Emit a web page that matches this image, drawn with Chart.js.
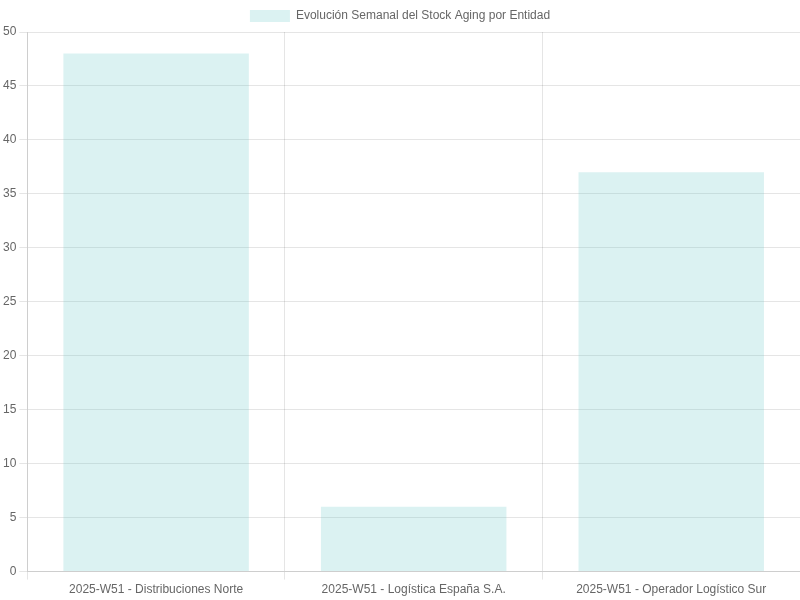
<!DOCTYPE html>
<html>
<head>
<meta charset="utf-8">
<script src="https://cdn.jsdelivr.net/npm/chart.js@4"></script>
<style>
html,body{margin:0;padding:0;background:#fff;}
#wrap{width:800px;height:600px;}
</style>
</head>
<body>
<div id="wrap"><canvas id="c"></canvas></div>
<script>
const categories = [
  "2025-W51 - Distribuciones Norte",
  "2025-W51 - Logística España S.A.",
  "2025-W51 - Operador Logístico Sur"
];
const seriesLabel = "Evolución Semanal del Stock Aging por Entidad";
const seriesValues = [48, 6, 37];

new Chart(document.getElementById('c'), {
  type: 'bar',
  data: {
    labels: categories,
    datasets: [{
      label: seriesLabel,
      data: seriesValues,
      backgroundColor: 'rgba(75,192,192,0.2)',
      borderWidth: 0
    }]
  },
  options: {
    responsive: true,
    maintainAspectRatio: false,
    animation: false,
    scales: {
      y: { beginAtZero: true }
    }
  }
});
</script>
</body>
</html>
